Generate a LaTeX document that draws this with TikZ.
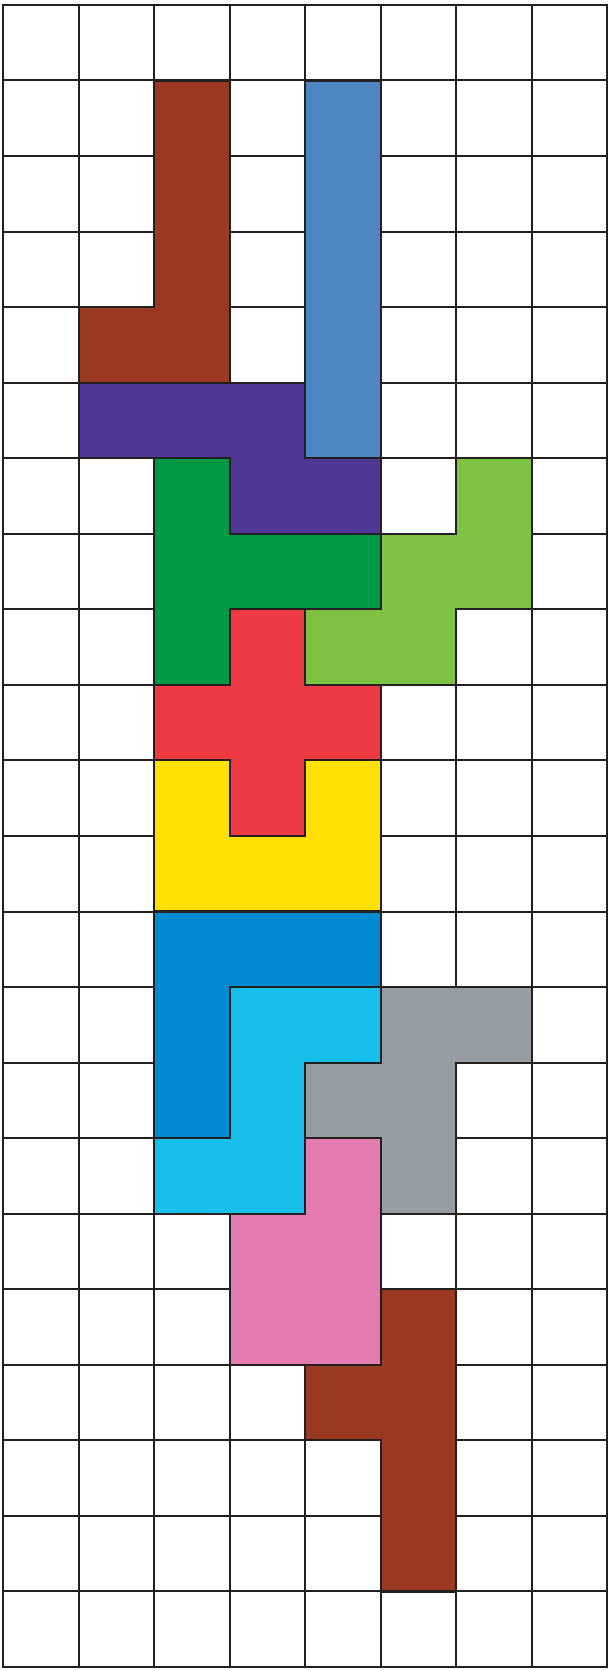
\documentclass[tikz,border=0pt]{standalone}
\definecolor{brownP}{HTML}{9A3A22}
\definecolor{steelP}{HTML}{4E86C4}
\definecolor{purpleP}{HTML}{4E3795}
\definecolor{dgreenP}{HTML}{009A46}
\definecolor{lgreenP}{HTML}{7DC243}
\definecolor{redP}{HTML}{EE3B43}
\definecolor{yellowP}{HTML}{FFE000}
\definecolor{blueP}{HTML}{008BD2}
\definecolor{cyanP}{HTML}{17BFEA}
\definecolor{grayP}{HTML}{959CA2}
\definecolor{pinkP}{HTML}{E47BB1}
\definecolor{lineC}{HTML}{231F20}
\tikzset{
  gridline/.style={draw=lineC, line width=0.75pt},
  piece/.style={draw=lineC, line width=0.8pt, line join=miter, fill=#1},
}
\begin{document}
\begin{tikzpicture}[x=1cm, y=-1cm]
\useasboundingbox[fill=white] (-0.04,-0.065) rectangle (8.02,22.04);
\draw[gridline] (0,0) grid (8,22);
\draw[gridline] (0,0) rectangle (8,22);
% top brown
\draw[piece=brownP] (2,1)--(3,1)--(3,5)--(1,5)--(1,4)--(2,4)--cycle;
% steel blue
\draw[piece=steelP] (4,1)--(5,1)--(5,6)--(4,6)--cycle;
% purple
\draw[piece=purpleP] (1,5)--(4,5)--(4,6)--(5,6)--(5,7)--(3,7)--(3,6)--(1,6)--cycle;
% dark green
\draw[piece=dgreenP] (2,6)--(3,6)--(3,7)--(5,7)--(5,8)--(3,8)--(3,9)--(2,9)--cycle;
% light green
\draw[piece=lgreenP] (6,6)--(7,6)--(7,8)--(6,8)--(6,9)--(4,9)--(4,8)--(5,8)--(5,7)--(6,7)--cycle;
% red cross
\draw[piece=redP] (3,8)--(4,8)--(4,9)--(5,9)--(5,10)--(4,10)--(4,11)--(3,11)--(3,10)--(2,10)--(2,9)--(3,9)--cycle;
% yellow
\draw[piece=yellowP] (2,10)--(3,10)--(3,11)--(4,11)--(4,10)--(5,10)--(5,12)--(2,12)--cycle;
% blue
\draw[piece=blueP] (2,12)--(5,12)--(5,13)--(3,13)--(3,15)--(2,15)--cycle;
% cyan
\draw[piece=cyanP] (3,13)--(5,13)--(5,14)--(4,14)--(4,16)--(2,16)--(2,15)--(3,15)--cycle;
% gray
\draw[piece=grayP] (5,13)--(7,13)--(7,14)--(6,14)--(6,16)--(5,16)--(5,15)--(4,15)--(4,14)--(5,14)--cycle;
% pink
\draw[piece=pinkP] (4,15)--(5,15)--(5,18)--(3,18)--(3,16)--(4,16)--cycle;
% bottom brown
\draw[piece=brownP] (5,17)--(6,17)--(6,21)--(5,21)--(5,19)--(4,19)--(4,18)--(5,18)--cycle;
\end{tikzpicture}
\end{document}
